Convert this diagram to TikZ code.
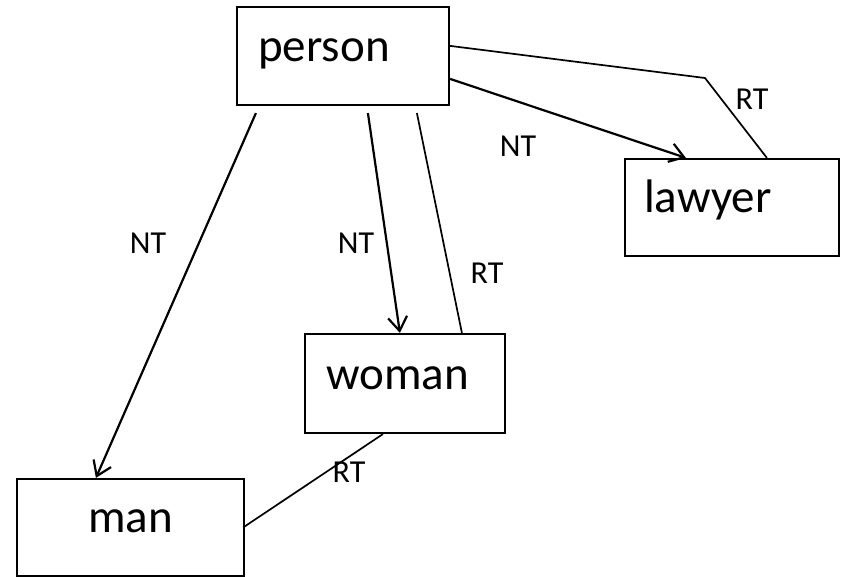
\documentclass[tikz,border=0pt]{standalone}
\usepackage{fontspec}
\setmainfont{Carlito}
\usetikzlibrary{arrows.meta}
\begin{document}
\begin{tikzpicture}[x=1pt,y=-1pt,
  conceptbox/.style={draw=black,line width=2.2pt,inner sep=0pt,rectangle},
  caption/.style={inner sep=0pt,font=\fontsize{47}{50}\selectfont},
  reltext/.style={inner sep=0pt,font=\fontsize{32}{35}\selectfont},
  link/.style={line width=2.2pt,line join=round},
  ntlink/.style={link,-{Straight Barb[length=14pt,width=19pt,line width=2.2pt]}},
  rtlink/.style={line width=1.7pt,line join=round}]
\useasboundingbox (0,0) rectangle (846,577);

% concept boxes
\node[conceptbox,minimum width=212pt,minimum height=98pt] (person) at (343,56) {};
\node[conceptbox,minimum width=214pt,minimum height=97pt] (lawyer) at (732,207.5) {};
\node[conceptbox,minimum width=200pt,minimum height=99pt] (woman) at (405,383.5) {};
\node[conceptbox,minimum width=227pt,minimum height=97pt] (man) at (130.5,527.5) {};

% box captions
\node[caption,anchor=base west] (tperson) at (258,62) {person};
\node[caption,anchor=base west] (tlawyer) at (644,213) {lawyer};
\node[caption,anchor=base west] (twoman) at (326,389) {woman};
\node[caption,anchor=base] (tman) at (130.5,532) {man};

% narrower-term arrows
\draw[ntlink] ([xshift=20pt,yshift=-7pt]person.south west) -- ([xshift=80pt]man.north west);
\draw[ntlink] ([xshift=132pt,yshift=-7pt]person.south west) -- ([xshift=96pt]woman.north west);
\draw[ntlink] ([yshift=-73pt]person.north east) -- ([xshift=62pt]lawyer.north west);

% related-term lines
\coordinate (bend) at (705,78);
\draw[rtlink] ([yshift=-40pt]person.north east) -- (bend) -- ([xshift=143pt]lawyer.north west);
\draw[rtlink] ([xshift=158pt]woman.north west) -- ([xshift=181pt,yshift=-7pt]person.south west);
\draw[rtlink] ([xshift=79pt]woman.south west) -- ([xshift=-2pt]man.east);

% relation labels
\node[reltext] (l1) at (148,243) {NT};
\node[reltext] (l2) at (356,243) {NT};
\node[reltext] (l3) at (518,146) {NT};
\node[reltext] (l4) at (487,273) {RT};
\node[reltext] (l5) at (752,99) {RT};
\node[reltext] (l6) at (349,472) {RT};
\end{tikzpicture}
\end{document}
